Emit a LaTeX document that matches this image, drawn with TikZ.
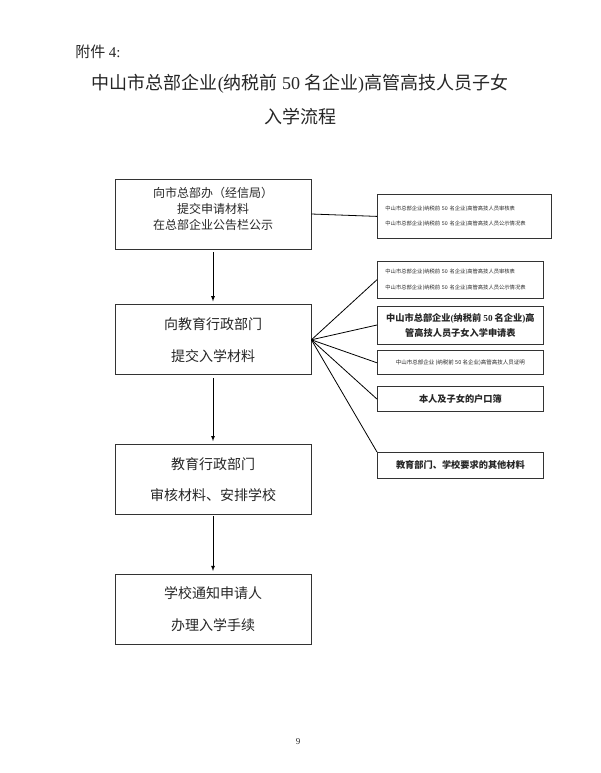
\documentclass[tikz,border=0pt]{standalone}
\usepackage{fontspec}
\setmainfont{Liberation Serif}
\newfontfamily\cjk{Noto Sans CJK SC}
\usetikzlibrary{positioning}
\begin{document}
\begin{tikzpicture}[>=latex, line width=0.8pt, every node/.style={align=center, inner sep=0pt, text=black!85},
  stepbox/.style={draw=black!80, minimum width=196pt, minimum height=70pt, font=\cjk\fontsize{14}{32}\selectfont},
  notebox/.style={draw=black!80, minimum width=166pt, anchor=north west, font=\cjk\bfseries\fontsize{9.2}{15}\selectfont}]
  \useasboundingbox (0,0) rectangle (601pt,-773pt);
  \node[anchor=west, font=\cjk\fontsize{15}{16}\selectfont] (annex) at (75pt,-52pt) {附件 \textrm{4:}};
  \node[font=\cjk\fontsize{18}{34}\selectfont] (title) at (300pt,-100pt) {中山市总部企业\textrm{(}纳税前 \textrm{50} 名企业\textrm{)}高管高技人员子女\\入学流程};
  \node[stepbox, font=\cjk\fontsize{12}{16}\selectfont] (b1) at (213pt,-214pt) {向市总部办（经信局）\\提交申请材料\\在总部企业公告栏公示\\[-4pt]\mbox{}};
  \node[stepbox, below=55pt of b1] (b2) {向教育行政部门\\提交入学材料};
  \node[stepbox, below=69pt of b2, font=\cjk\fontsize{14}{31}\selectfont] (b3) {教育行政部门\\审核材料、安排学校};
  \node[stepbox, below=59pt of b3] (b4) {学校通知申请人\\办理入学手续};
  \node[notebox, minimum width=174pt, minimum height=44pt, align=left, text width=158pt, font=\cjk\fontsize{5.3}{15}\selectfont] (r1) at (377pt,-194pt) {中山市总部企业(纳税前 50 名企业)高管高技人员审核表\\中山市总部企业(纳税前 50 名企业)高管高技人员公示情况表};
  \node[notebox, minimum height=37pt, align=left, text width=150pt, font=\cjk\fontsize{5.3}{16}\selectfont, below=22pt of r1.south west, anchor=north west] (r2) {中山市总部企业(纳税前 50 名企业)高管高技人员审核表\\中山市总部企业(纳税前 50 名企业)高管高技人员公示情况表};
  \node[notebox, minimum height=38pt, below=7pt of r2.south west, anchor=north west] (r3) {中山市总部企业\textrm{(}纳税前 \textrm{50} 名企业\textrm{)}高\\管高技人员子女入学申请表};
  \node[notebox, minimum height=24pt, font=\cjk\fontsize{5.5}{7}\selectfont, below=6pt of r3.south west, anchor=north west] (r4) {中山市总部企业 (纳税前 50 名企业)高管高技人员证明};
  \node[notebox, minimum height=25pt, below=11pt of r4.south west, anchor=north west] (r5) {本人及子女的户口簿};
  \node[notebox, minimum height=26pt, below=40pt of r5.south west, anchor=north west] (r6) {教育部门、学校要求的其他材料};
  \draw[->, shorten <=3pt, shorten >=3pt] (b1) -- (b2);
  \draw[->, shorten <=3pt, shorten >=3pt] (b2) -- (b3);
  \draw[->, shorten <=1pt, shorten >=3pt] (b3) -- (b4);
  \draw (b1.east) -- (r1.west);
  \foreach \n in {r2,r3,r4,r5}
    \draw (b2.east) -- (\n.west);
  \draw (b2.east) -- (r6.north west);
  \node[font=\fontsize{9}{10}\selectfont] (page) at (298pt,-742pt) {9};
\end{tikzpicture}
\end{document}
